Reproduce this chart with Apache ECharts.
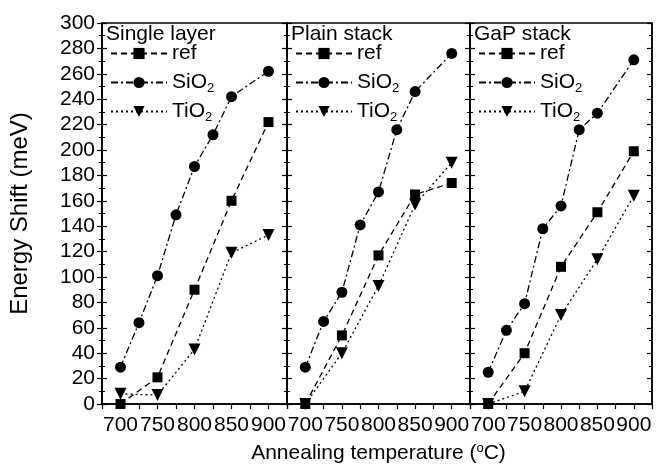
<!DOCTYPE html>
<html lang="en">
<head>
    <meta charset="UTF-8">
    <title>Energy shift vs annealing temperature</title>
    <script src="https://cdn.jsdelivr.net/npm/echarts@6/dist/echarts.min.js"></script>
</head>
<body style="margin:0">
<div id="main" style="width: 662px; height: 471px;"></div>
<script>
    // data (meV)
    var panels = ['Single layer', 'Plain stack', 'GaP stack'];
    var seriesNames = ['ref', 'SiO2', 'TiO2'];

    var tempRef = [700, 750, 800, 850, 900];
    var tempSiO2 = [700, 725, 750, 775, 800, 825, 850, 900];
    var tempTiO2 = [700, 750, 800, 850, 900];

    var singleRef = [0, 21, 90, 160, 222];
    var singleSiO2 = [29, 64, 101, 149, 187, 212, 242, 262];
    var singleTiO2 = [8, 7, 43, 119, 133];

    var plainRef = [0, 54, 117, 165, 174];
    var plainSiO2 = [29, 65, 88, 141, 167, 216, 246, 276];
    var plainTiO2 = [0, 40, 93, 157, 190];

    var gapRef = [0, 40, 108, 151, 199];
    var gapSiO2 = [25, 58, 79, 138, 156, 216, 229, 271];
    var gapTiO2 = [0, 10, 70, 114, 164];

    var yTicks = [0, 300, 20];
    var xTicks = [675, 925, 25];

    var values = [
        [singleRef, singleSiO2, singleTiO2],
        [plainRef, plainSiO2, plainTiO2],
        [gapRef, gapSiO2, gapTiO2]
    ];
    var temps = [tempRef, tempSiO2, tempTiO2];

    function pairs(xs, ys) {
        return xs.map(function (x, i) { return [x, ys[i]]; });
    }

    var font = 'Liberation Sans, Arial, sans-serif';
    var grids = [
        {left: 102, top: 23, width: 185, height: 381},
        {left: 287, top: 23, width: 183, height: 381},
        {left: 470, top: 23, width: 182, height: 381}
    ];
    var styles = [
        {symbol: 'rect', size: 10, rotate: 0, dash: [6, 4]},
        {symbol: 'circle', size: 11, rotate: 0, dash: [7, 3, 2, 3]},
        {symbol: 'triangle', size: 12, rotate: 180, dash: [2, 3]}
    ];

    var xAxes = [], yAxes = [], series = [], legends = [], titles = [];

    grids.forEach(function (g, k) {
        g.show = true;
        g.borderColor = '#000';
        g.borderWidth = 1.5;
        g.containLabel = false;
        g.outerBoundsMode = 'none';

        xAxes.push({
            type: 'value', gridIndex: k,
            min: xTicks[0], max: xTicks[1], interval: xTicks[2],
            axisLine: {lineStyle: {color: '#000', width: 1.5}},
            axisTick: {inside: false, length: 5, lineStyle: {color: '#000', width: 1.2}},
            splitLine: {show: false},
            axisLabel: {
                color: '#000', fontSize: 21, fontFamily: font, margin: 11,
                formatter: function (v) { return v % 50 === 0 ? String(v) : ''; }
            },
            name: k === 1 ? 'Annealing temperature ({sup|o}C)' : '',
            nameLocation: 'middle', nameGap: 38,
            nameTextStyle: {
                color: '#000', fontSize: 21, fontFamily: font,
                rich: {sup: {fontSize: 13, fontFamily: font, color: '#000', padding: [0, 0, 10, 0]}}
            }
        });

        var yBase = {
            type: 'value', gridIndex: k,
            min: yTicks[0], max: yTicks[1], interval: yTicks[2],
            splitLine: {show: false},
            axisLine: {show: true, lineStyle: {color: '#000', width: 1.5}},
            axisTick: {inside: true, length: 5, lineStyle: {color: '#000', width: 1.2}},
            minorTick: {show: true, splitNumber: 2, length: 3, lineStyle: {color: '#000'}},
            axisLabel: {show: false}
        };
        yAxes.push(Object.assign({}, yBase, {position: 'left'}));
        yAxes.push(Object.assign({}, yBase, {position: 'right'}));
        var yIdx = yAxes.length - 2;

        seriesNames.forEach(function (name, s) {
            var st = styles[s];
            series.push({
                name: name, type: 'line',
                xAxisIndex: k, yAxisIndex: yIdx,
                data: pairs(temps[s], values[k][s]),
                symbol: st.symbol, symbolSize: st.size, symbolRotate: st.rotate,
                itemStyle: {color: '#000'},
                lineStyle: {color: '#000', width: 1.3, type: st.dash},
                showAllSymbol: true, clip: false, z: 3 - s
            });
        });

        legends.push({
            orient: 'vertical',
            left: g.left + 3, top: 38,
            itemWidth: 56, itemHeight: 14, itemGap: 6,
            data: seriesNames,
            selectedMode: false,
            textStyle: {
                color: '#000', fontSize: 21, fontFamily: font,
                rich: {sub: {fontSize: 13, fontFamily: font, color: '#000', padding: [12, 0, 0, 0]}}
            },
            formatter: function (n) { return n === 'ref' ? 'ref{sub| }' : n.replace('2', '{sub|2}'); }
        });

        titles.push({
            text: panels[k], left: g.left + 4, top: 24, padding: 0,
            textStyle: {color: '#000', fontSize: 21, fontWeight: 'normal', fontFamily: font}
        });
    });

    // first panel: outward ticks with the labels and the axis name
    yAxes.push({
        type: 'value', gridIndex: 0, position: 'left',
        min: yTicks[0], max: yTicks[1], interval: yTicks[2],
        splitLine: {show: false},
        axisLine: {show: true, lineStyle: {color: '#000', width: 1.5}},
        axisTick: {inside: false, length: 5, lineStyle: {color: '#000', width: 1.2}},
        minorTick: {show: true, splitNumber: 2, length: 3, lineStyle: {color: '#000'}},
        axisLabel: {color: '#000', fontSize: 21, fontFamily: font, margin: 7},
        name: 'Energy Shift (meV)', nameLocation: 'middle', nameGap: 70,
        nameTextStyle: {color: '#000', fontSize: 24, fontFamily: font}
    });

    var mychart = echarts.init(document.getElementById('main'));
    mychart.setOption({
        backgroundColor: '#fff',
        animation: false,
        title: titles,
        legend: legends,
        grid: grids,
        xAxis: xAxes,
        yAxis: yAxes,
        series: series
    });
</script>
</body>
</html>
